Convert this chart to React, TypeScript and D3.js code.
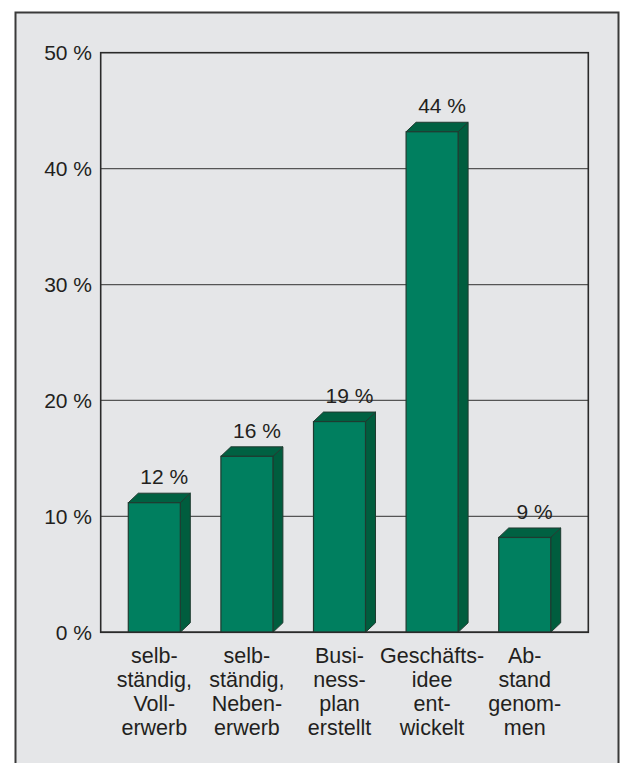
import React from "react";
import * as d3 from "d3";

const categories = ["c1", "c2", "c3", "c4", "c5"];
const categoryLines = [
  ["selb-", "ständig,", "Voll-", "erwerb"],
  ["selb-", "ständig,", "Neben-", "erwerb"],
  ["Busi-", "ness-", "plan", "erstellt"],
  ["Geschäfts-", "idee", "ent-", "wickelt"],
  ["Ab-", "stand", "genom-", "men"],
];
const values = [12, 16, 19, 44, 9];
const valueLabels = ["12 %", "16 %", "19 %", "44 %", "9 %"];
const yTicks = [0, 10, 20, 30, 40, 50];

export default function App() {
  const W = 620, H = 763;
  const plot = { left: 100.7, right: 588.3, top: 52.7, bottom: 632.3 };
  const y = d3.scaleLinear().domain([0, 50]).range([plot.bottom, plot.top]);
  const x = d3
    .scaleBand<string>()
    .domain(categories)
    .range([108, 571])
    .paddingInner(0.4384)
    .paddingOuter(0.2192);
  const w = x.bandwidth();
  const dx = 10, dy = 9.5;
  const font = "'Liberation Sans', Arial, Helvetica, sans-serif";
  const textColor = "#231f20";
  const front = "#007f5f", side = "#005d3e", top = "#006142", edge = "#1f3b30";

  return (
    <svg width={W} height={H} style={{ position: "absolute", left: 0, top: 0 }} fontFamily={font}>
      <rect x={0} y={0} width={W} height={H} fill="#ffffff" />
      <rect x={15.5} y={12.5} width={603} height={H + 10} fill="#e5e6e8" stroke="#3a3a3a" strokeWidth={2} />
      {/* gridlines */}
      {yTicks.filter((t) => t > 0 && t < 50).map((t) => (
        <line key={t} x1={plot.left} x2={plot.right} y1={y(t)} y2={y(t)} stroke="#555" strokeWidth={1.2} />
      ))}
      {/* plot border */}
      <rect x={plot.left} y={plot.top} width={plot.right - plot.left} height={plot.bottom - plot.top} fill="none" stroke="#2a2a2a" strokeWidth={1.6} />
      {/* tick labels */}
      {yTicks.map((t) => (
        <text key={t} x={92} y={y(t)} dy="0.36em" textAnchor="end" fontSize={21} fill={textColor}>
          {t} %
        </text>
      ))}
      {/* bars */}
      {categories.map((c, i) => {
        const x0 = x(c)!;
        const yb = y(values[i]);
        const yf = yb + dy;
        const y0 = y(0);
        return (
          <g key={c}>
            <polygon
              points={`${x0 + w},${yf} ${x0 + w + dx},${yf - dy} ${x0 + w + dx},${y0 - dy} ${x0 + w},${y0}`}
              fill={side}
              stroke={edge}
              strokeWidth={1}
              strokeLinejoin="round"
            />
            <polygon
              points={`${x0},${yf} ${x0 + dx},${yf - dy} ${x0 + w + dx},${yf - dy} ${x0 + w},${yf}`}
              fill={top}
              stroke={edge}
              strokeWidth={1}
              strokeLinejoin="round"
            />
            <rect x={x0} y={yf} width={w} height={y0 - yf} fill={front} stroke={edge} strokeWidth={1.2} />
            <text x={x0 + w / 2 + dx} y={yb - 9} textAnchor="middle" fontSize={21} fill={textColor}>
              {valueLabels[i]}
            </text>
            {categoryLines[i].map((ln, j) => (
              <text key={j} x={x0 + w / 2} y={663 + j * 24} textAnchor="middle" fontSize={21.5} fill={textColor}>
                {ln}
              </text>
            ))}
          </g>
        );
      })}
      {/* redraw baseline over bars */}
      <line x1={plot.left} x2={plot.right} y1={plot.bottom} y2={plot.bottom} stroke="#2a2a2a" strokeWidth={1.6} />
    </svg>
  );
}
